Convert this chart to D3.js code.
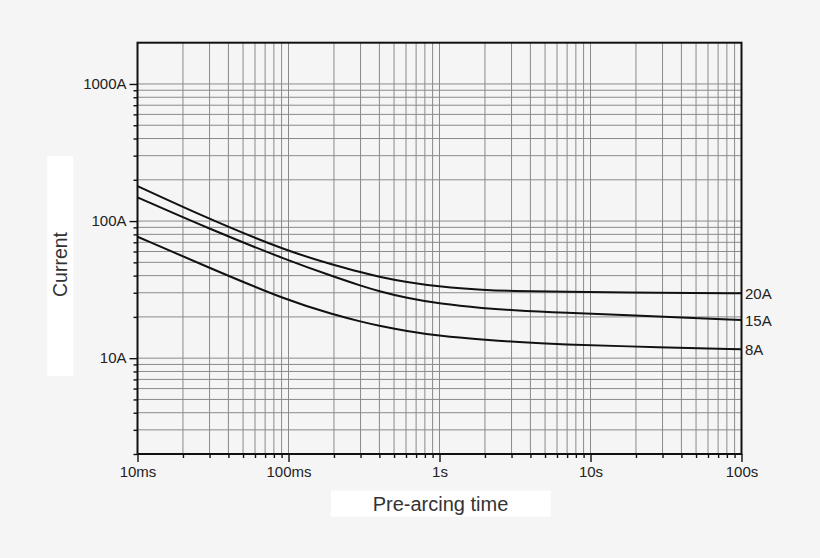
<!DOCTYPE html>
<html><head><meta charset="utf-8">
<script src="https://cdn.jsdelivr.net/npm/d3@7"></script>
<style>
html,body{margin:0;padding:0;background:#f5f5f5;}
svg{display:block;font-family:"Liberation Sans",Arial,sans-serif;}
</style></head><body>
<svg id="c" width="820" height="558"></svg>
<script>
// Data (pre-arcing time in seconds, current in A)
const times = [0.01, 0.03, 0.1, 0.2, 0.3, 0.4, 0.6, 1, 2, 3, 6, 30, 100];
const amp20 = [180, 103, 59.7, 47.9, 42.4, 39.2, 35.9, 33.2, 31.4, 30.9, 30.5, 30.0, 29.7];
const amp15 = [149, 87.5, 51.4, 39.3, 33.8, 30.7, 27.5, 24.9, 23.1, 22.4, 21.5, 20.1, 19.0];
const amp8  = [76.9, 45.5, 26.1, 20.8, 18.5, 17.2, 15.8, 14.5, 13.6, 13.2, 12.6, 12.0, 11.6];
const seriesNames = ["20A", "15A", "8A"];
const xTickValues = [0.01, 0.1, 1, 10, 100];
const xTickLabels = ["10ms", "100ms", "1s", "10s", "100s"];
const yTickValues = [10, 100, 1000];
const yTickLabels = ["10A", "100A", "1000A"];

const svg = d3.select("#c");
const L = 137.5, R = 741.5, T = 42.7, B = 454;
const x = d3.scaleLog().domain([0.01, 100]).range([L, R]);
const y = d3.scaleLog().domain([2, 2000]).range([B, T]);

// minor values
const xMinor = [], yMinor = [];
for (let d = 0.01; d < 100; d *= 10) for (let k = 2; k <= 9; k++) xMinor.push(+(d * k).toPrecision(3));
for (let d = 1; d < 1000; d *= 10) for (let k = 2; k <= 9; k++) { const v = d * k; if (v >= 2 && v < 1000) yMinor.push(v); }

const grid = svg.append("g").attr("stroke", "#8a8a8a").attr("stroke-width", 1);
grid.selectAll("line.vx").data(xMinor.concat(xTickValues.slice(1, -1))).enter().append("line")
  .attr("x1", d => x(d)).attr("x2", d => x(d)).attr("y1", T).attr("y2", B);
grid.selectAll("line.hy").data(yMinor.filter(v => v > 2).concat(yTickValues)).enter().append("line")
  .attr("y1", d => y(d)).attr("y2", d => y(d)).attr("x1", L).attr("x2", R);

// axes
const xAxis = d3.axisBottom(x).tickValues(xTickValues).tickFormat((d, i) => xTickLabels[i]).tickSize(8).tickPadding(4);
svg.append("g").attr("transform", `translate(0,${B})`).call(xAxis);
const xAxisMinor = d3.axisBottom(x).tickValues(xMinor).tickFormat("").tickSize(4);
svg.append("g").attr("transform", `translate(0,${B})`).call(xAxisMinor);

const yAxis = d3.axisLeft(y).tickValues(yTickValues).tickFormat((d, i) => yTickLabels[i]).tickSize(8).tickPadding(3);
svg.append("g").attr("transform", `translate(${L},0)`).call(yAxis);
const yAxisMinor = d3.axisLeft(y).tickValues(yMinor).tickFormat("").tickSize(4);
svg.append("g").attr("transform", `translate(${L},0)`).call(yAxisMinor);

svg.selectAll(".domain").remove();
svg.selectAll(".tick line").attr("stroke", "#111").attr("stroke-width", 1.4);
svg.selectAll(".tick text").attr("font-size", 15).attr("fill", "#222")
  .attr("font-family", "Liberation Sans, Arial, sans-serif");

// frame
svg.append("rect").attr("x", L).attr("y", T).attr("width", R - L).attr("height", B - T)
  .attr("fill", "none").attr("stroke", "#111").attr("stroke-width", 2);

// curves
const series = [amp20, amp15, amp8];
const line = d3.line().x((d, i) => x(times[i])).y(d => y(d)).curve(d3.curveBasis);
svg.append("g").selectAll("path").data(series).enter().append("path")
  .attr("d", d => line(d)).attr("fill", "none").attr("stroke", "#111").attr("stroke-width", 2);

svg.append("g").selectAll("text").data(series).enter().append("text")
  .attr("x", R + 3.5).attr("y", d => y(d[d.length - 1]) + 6)
  .attr("font-size", 15).attr("fill", "#222").text((d, i) => seriesNames[i]);

// axis title boxes
svg.append("rect").attr("x", 47.3).attr("y", 156).attr("width", 26).attr("height", 220).attr("fill", "#fff");
svg.append("text").attr("transform", "translate(67.3,264.5) rotate(-90)").attr("text-anchor", "middle")
  .attr("font-size", 19.5).attr("fill", "#333").text("Current");
svg.append("rect").attr("x", 331).attr("y", 490.7).attr("width", 219.7).attr("height", 26).attr("fill", "#fff");
svg.append("text").attr("x", 440.5).attr("y", 511).attr("text-anchor", "middle")
  .attr("font-size", 20).attr("fill", "#333").text("Pre-arcing time");
</script>
</body></html>
